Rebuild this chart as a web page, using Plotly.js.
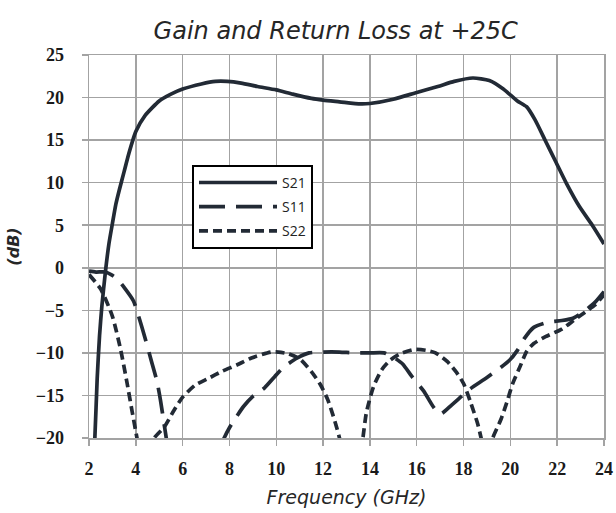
<!DOCTYPE html>
<html>
<head>
<meta charset="utf-8">
<script src="https://cdn.plot.ly/plotly-3.0.1.min.js"></script>
<style>html,body{margin:0;padding:0;background:#fff;}#chart{width:616px;height:513px;}</style>
</head>
<body>
<div id="chart"></div>
<script>
// Frequency (GHz) and dB values
const freqS21 = [2.2, 2.25, 2.35, 2.45, 2.55, 2.7, 2.85, 3.0, 3.15, 3.3, 3.5, 3.7, 4.0, 4.4, 5.0, 5.5, 6.0, 6.8, 7.4, 7.9, 8.5, 9.2, 10.0, 10.7, 11.5, 12.0, 12.7, 13.6, 14.0, 15.0, 16.0, 16.9, 17.6, 18.4, 19.1, 19.7, 20.3, 20.7, 21.05, 21.5, 21.95, 22.4, 22.95, 23.5, 24.0];
const s21 = [-22, -20, -13, -8, -4.5, -0.5, 2.8, 5.2, 7.5, 9.2, 11.3, 13.4, 16.0, 17.9, 19.6, 20.4, 21.0, 21.6, 21.9, 21.9, 21.7, 21.3, 20.9, 20.4, 19.9, 19.7, 19.5, 19.25, 19.3, 19.8, 20.6, 21.3, 21.9, 22.3, 22.0, 21.0, 19.6, 18.9, 17.4, 14.9, 12.4, 9.9, 7.2, 5.0, 2.8];

const freqS11 = [2.0, 2.3, 2.7, 3.0, 3.2, 3.5, 3.9, 4.12, 4.4, 4.65, 4.9, 5.05, 5.2, 5.3, 5.35, 6.5, 7.6, 7.74, 8.0, 8.3, 8.6, 9.0, 9.5, 9.93, 10.3, 10.9, 11.4, 12.0, 12.7, 13.3, 14.0, 14.6, 15.0, 15.4, 15.8, 16.3, 16.7, 17.0, 17.5, 18.3, 19.0, 19.95, 20.3, 20.6, 21.0, 21.6, 22.2, 22.7, 23.2, 23.6, 24.0];
const s11 = [-0.4, -0.5, -0.5, -0.9, -1.3, -2.3, -3.9, -5.7, -8.3, -10.8, -13.3, -15.5, -18.2, -20, -21.5, null, -21.2, -20.2, -18.8, -17.5, -16.3, -15.1, -14.1, -12.8, -11.7, -10.6, -10.0, -9.9, -9.9, -10.0, -10.0, -10.0, -10.5, -11.3, -12.8, -14.5, -16.3, -17.2, -16.1, -14.2, -12.9, -10.9, -9.7, -8.3, -7.0, -6.4, -6.2, -5.9, -5.0, -4.1, -2.8];

const freqS22 = [2.0, 2.5, 3.0, 3.35, 3.63, 3.85, 4.05, 4.15, 4.4, 4.65, 4.79, 5.22, 5.64, 6.0, 6.53, 7.1, 7.66, 8.33, 8.94, 9.79, 10.1, 10.5, 11.0, 11.5, 11.9, 12.2, 12.5, 12.7, 12.8, 13.2, 13.6, 13.7, 13.85, 14.15, 14.5, 14.85, 15.3, 15.9, 16.4, 16.8, 17.3, 17.7, 18.0, 18.3, 18.6, 18.75, 18.85, 19.0, 19.15, 19.25, 19.6, 19.85, 20.1, 20.4, 20.7, 21.0, 21.5, 22.2, 22.7, 23.2, 23.6, 24.0];
const s22 = [-0.8, -2.5, -5.7, -9.6, -13.6, -17.0, -20, -21.5, null, -21.5, -20, -18.7, -16.7, -15.2, -13.8, -13.0, -12.2, -11.4, -10.6, -9.9, -9.9, -10.1, -10.7, -12.2, -13.8, -15.5, -18.0, -20, -21.5, null, -21.5, -20, -17.0, -14.0, -12.0, -10.9, -10.1, -9.6, -9.7, -10.0, -11.0, -12.3, -13.6, -15.8, -18.3, -20, -21.5, null, -21.5, -20, -17.8, -15.8, -13.6, -11.7, -9.8, -8.9, -8.1, -7.2, -6.2, -5.2, -4.4, -3.2];

const xTicks = [2, 4, 6, 8, 10, 12, 14, 16, 18, 20, 22, 24];
const yTicks = [-20, -15, -10, -5, 0, 5, 10, 15, 20, 25];

const lineColor = '#222a35';
const gridColor = '#a3a3a3';

const traces = [
  {x: freqS21, y: s21, name: 'S21', mode: 'lines', legendgroup: 'a',
   line: {color: lineColor, width: 3.7, shape: 'spline', smoothing: 0.6}},
  {x: freqS11, y: s11, name: 'S11', mode: 'lines', legendgroup: 'b',
   line: {color: lineColor, width: 3.7, dash: '26px,11px', shape: 'spline', smoothing: 0.6}},
  {x: freqS22, y: s22, name: 'S22', mode: 'lines', legendgroup: 'c',
   line: {color: lineColor, width: 3.7, dash: '9px,5px', shape: 'spline', smoothing: 0.6}}
];

const tickFont = {family: 'Liberation Serif', size: 18, color: '#1a1a1a', weight: 700};

const layout = {
  width: 616, height: 513,
  margin: {l: 89, r: 12, t: 55, b: 75},
  paper_bgcolor: '#ffffff', plot_bgcolor: '#ffffff',
  font: {family: 'Liberation Serif', size: 18, color: '#1a1a1a'},
  title: {text: 'Gain and Return Loss at +25C', x: 0.545, xanchor: 'center', y: 0.94, yanchor: 'middle',
          font: {family: 'DejaVu Sans', size: 24, color: '#262626', style: 'italic'}},
  xaxis: {range: [2, 24], tickvals: xTicks,
          showgrid: true, gridcolor: gridColor, gridwidth: 1.5,
          showline: true, linecolor: gridColor, linewidth: 1.5, mirror: true,
          ticks: 'outside', ticklen: 6, tickcolor: gridColor, tickwidth: 1.5,
          ticklabelstandoff: 8, zeroline: false, tickfont: tickFont,
          title: {text: 'Frequency (GHz)', standoff: 12,
                  font: {family: 'DejaVu Sans', size: 19, color: '#262626', style: 'italic'}}},
  yaxis: {range: [-20, 25], tickvals: yTicks,
          showgrid: true, gridcolor: gridColor, gridwidth: 1.5,
          showline: true, linecolor: gridColor, linewidth: 1.5, mirror: true,
          ticks: 'outside', ticklen: 6, tickcolor: gridColor, tickwidth: 1.5,
          ticklabelstandoff: 14, zeroline: false, tickfont: tickFont,
          title: {text: '(dB)', standoff: 12,
                  font: {family: 'DejaVu Sans', size: 16, color: '#262626', style: 'italic', weight: 700}}},
  legend: {x: 0.2, y: 0.713, xanchor: 'left', yanchor: 'top',
           bgcolor: '#ffffff', bordercolor: '#000000', borderwidth: 2,
           itemwidth: 78, traceorder: 'grouped', tracegroupgap: 3,
           font: {family: 'Open Sans', size: 14, color: '#222222'}},
  showlegend: true
};

Plotly.newPlot('chart', traces, layout, {displayModeBar: false, staticPlot: true});
</script>
</body>
</html>
